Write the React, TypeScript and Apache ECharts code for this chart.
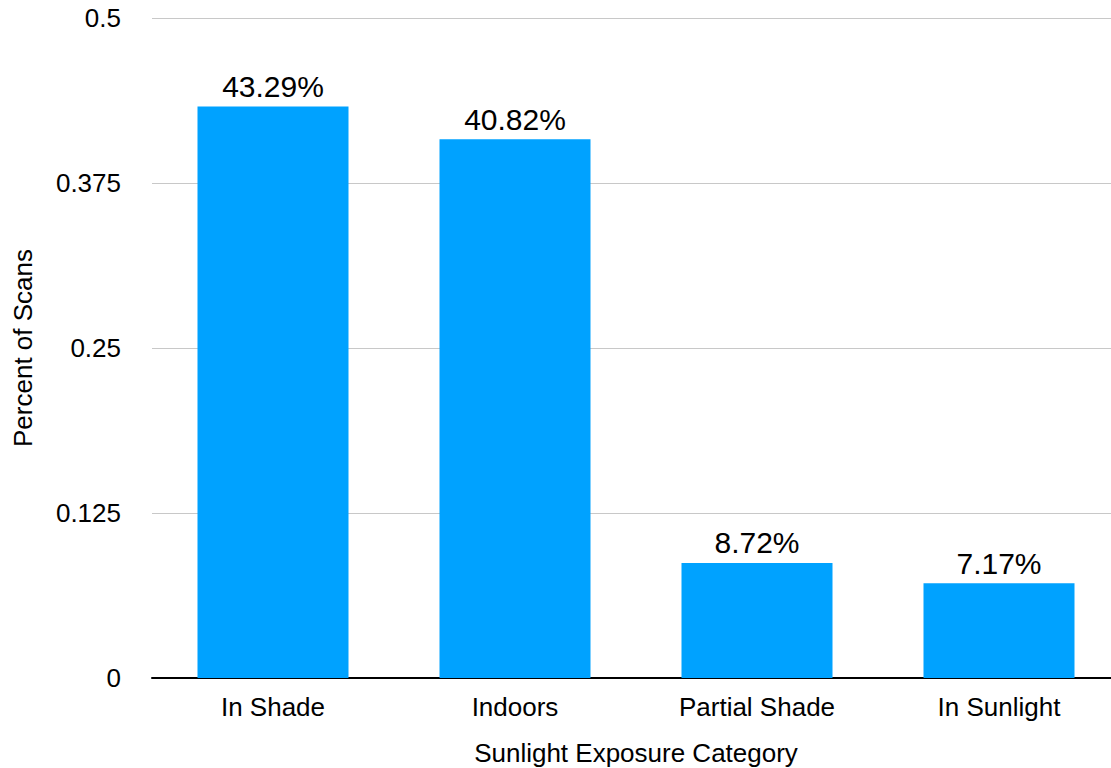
import React, { useEffect, useRef } from "react";
import * as echarts from "echarts";

const categories = ["In Shade", "Indoors", "Partial Shade", "In Sunlight"];
const percentOfScans = [0.4329, 0.4082, 0.0872, 0.0717];
const yTicks = [0, 0.125, 0.25, 0.375, 0.5];

const FONT = "'Liberation Sans', Arial, Helvetica, sans-serif";

export default function App() {
  const ref = useRef<HTMLDivElement>(null);

  useEffect(() => {
    if (!ref.current) return;
    const chart = echarts.init(ref.current, null, { renderer: "svg" });
    chart.setOption({
      animation: false,
      backgroundColor: "#ffffff",
      // plot runs slightly past the right edge of the canvas
      grid: {
        left: 152,
        right: -9,
        top: 18,
        bottom: 90,
        containLabel: false,
        outerBoundsMode: "none",
      },
      xAxis: {
        type: "category",
        data: categories,
        name: "Sunlight Exposure Category",
        nameLocation: "middle",
        nameGap: 62,
        nameTextStyle: { fontFamily: FONT, fontSize: 26, color: "#000" },
        axisLine: { show: true, lineStyle: { color: "#000", width: 2 } },
        axisTick: { show: false },
        axisLabel: { fontFamily: FONT, fontSize: 26, color: "#000", margin: 16 },
      },
      yAxis: {
        type: "value",
        min: 0,
        max: 0.5,
        interval: 0.125,
        name: "Percent of Scans",
        nameLocation: "middle",
        nameGap: 116,
        nameTextStyle: { fontFamily: FONT, fontSize: 26, color: "#000" },
        axisLine: { show: false },
        axisTick: { show: false },
        axisLabel: {
          fontFamily: FONT,
          fontSize: 26,
          color: "#000",
          margin: 31,
          formatter: (v: number) => (yTicks.includes(v) ? String(v) : ""),
        },
        splitLine: { show: true, lineStyle: { color: "#c8c8c8", width: 1 } },
      },
      series: [
        {
          type: "bar",
          data: percentOfScans,
          barWidth: "62.4%",
          itemStyle: { color: "#00A2FF" },
          label: {
            show: true,
            position: "top",
            distance: 5,
            fontFamily: FONT,
            fontSize: 30,
            color: "#000",
            formatter: (p: any) => (p.value * 100).toFixed(2) + "%",
          },
        },
      ],
    });
    return () => chart.dispose();
  }, []);

  return (
    <div
      ref={ref}
      style={{ position: "fixed", left: 0, top: 0, width: 1111, height: 768 }}
    />
  );
}
